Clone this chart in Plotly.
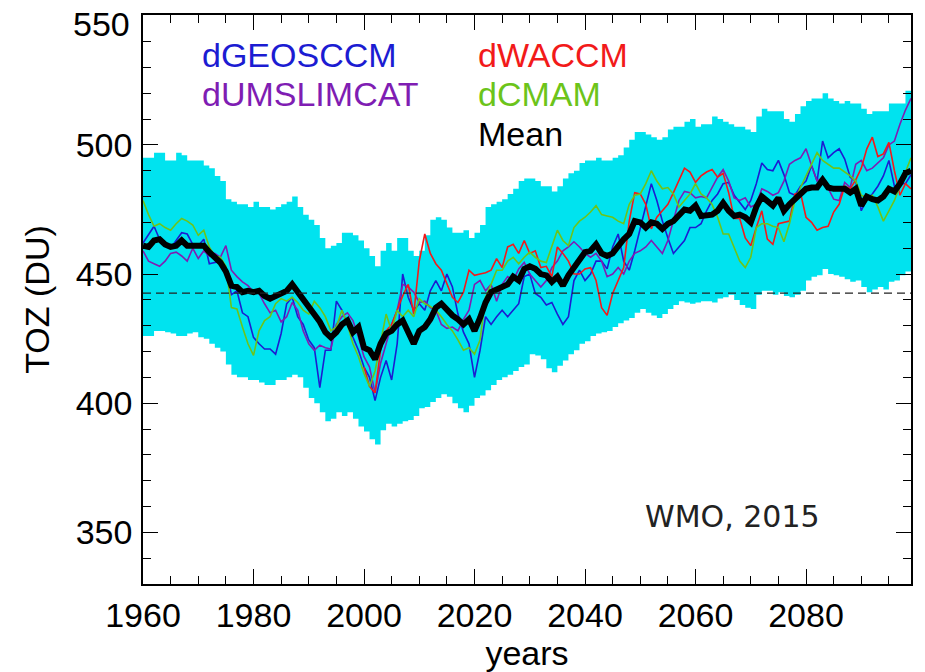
import plotly.graph_objects as go

years = list(range(1960, 2100))
years_waccm = list(range(2000, 2100))

band_hi = [495, 495, 497, 497, 494, 494, 497, 496, 494, 494,
           494, 492, 491, 488, 486, 479, 478, 477, 477, 476,
           478, 476, 476, 475, 476, 477, 478, 480, 476, 473,
           471, 469, 464, 460, 461, 462, 466, 466, 465, 463,
           460, 457, 453, 459, 462, 459, 464, 464, 459, 457,
           459, 465, 471, 472, 471, 468, 466, 466, 467, 464,
           466, 469, 476, 477, 478, 479, 481, 483, 486, 487,
           487, 486, 484, 484, 482, 484, 487, 489, 490, 493,
           494, 494, 495, 494, 494, 495, 496, 499, 502, 505,
           505, 504, 503, 502, 503, 506, 507, 507, 509, 510,
           507, 508, 508, 511, 510, 509, 508, 507, 507, 506,
           505, 511, 514, 513, 513, 513, 510, 509, 512, 515,
           517, 518, 518, 520, 518, 517, 516, 517, 516, 516,
           514, 512, 513, 513, 513, 516, 516, 516, 521, 525]

band_lo = [426, 426, 428, 428, 427.5, 427, 426, 426, 427, 427.5,
           425.5, 425, 423, 421.5, 420, 415, 411, 410, 410, 409,
           409, 408, 407, 407, 409, 409, 410, 411, 410, 406,
           402, 400, 396.5, 393, 394, 396.5, 395, 396.5, 394, 391,
           389, 386, 384, 389.5, 392, 391, 392, 393, 393.5, 395,
           398, 398.5, 400.5, 402, 403.5, 402.5, 400, 398, 396.5, 399,
           402, 403, 405, 407, 409, 410, 411, 412.5, 414, 415,
           419, 418.5, 417, 413.5, 412, 414.5, 416.5, 419, 420.5, 423,
           424, 426, 427, 427.5, 428, 429.5, 431, 432, 433, 435,
           436.5, 435, 434, 433, 434.5, 436.5, 438, 439.5, 439, 438.5,
           439, 439.5, 439.5, 439, 440.5, 441, 442, 440, 438, 437,
           436.5, 442, 443.5, 443.5, 442, 443, 441.5, 441, 442, 443.5,
           447.5, 449, 449.5, 452, 450, 449.5, 449, 448, 447, 447.5,
           445, 443, 444, 445, 444, 447, 447.5, 449.5, 451, 454]

mean = [461, 460.5, 463, 463.5, 461.5, 460.5, 461, 463, 461, 461,
        461, 461, 458.5, 456.5, 454.5, 451, 445.5, 445, 443, 443.5,
        443, 443.5, 441.5, 440.5, 441.5, 442.5, 443.5, 446, 443, 440.5,
        438, 435, 431.5, 427.5, 425.5, 427.5, 430.5, 432, 427.5, 429.5,
        421.5, 420.5, 417, 423, 427, 428, 430.5, 432, 428, 423,
        428, 429.5, 432.5, 437, 438.5, 436, 434, 432.5, 430.5, 432.5,
        428, 433, 439, 443, 444, 445.5, 446, 449, 447.5, 452,
        453, 452, 450, 449.5, 447, 449, 445.5, 449.5, 452.5, 456.5,
        458.5, 459, 461.5, 458, 457, 458, 461, 463.5, 465.5, 470.5,
        470, 468, 470, 469.5, 467.5, 469.5, 470.5, 473, 475, 474.5,
        476.5, 472.5, 472.5, 473, 474.5, 477.5, 474.5, 472.5, 473, 472,
        470, 476, 480, 478, 476.5, 479.5, 474.5, 477, 479, 481.5,
        483, 483.5, 483.5, 486.5, 483.5, 483, 483, 483, 481.5, 483,
        476.5, 480, 479, 478.5, 480, 483, 482, 485, 489, 490]

geosccm = [462, 465.5, 468.5, 463.5, 462, 460, 463, 466, 465.5, 461.5,
           461, 463.5, 454, 454.5, 455, 452.5, 442, 443.5, 435, 433.5,
           425.5, 423, 421, 421, 419, 427, 438.5, 441, 433.5, 430.5,
           424.5, 421.5, 406, 420.5, 420.5, 439.5, 436, 430.5, 425.5, 420.5,
           414, 410, 401, 410, 416.5, 409, 423, 450, 441, 436,
           438.5, 436, 443.5, 447.5, 443.5, 450, 445, 434.5, 427.5, 423,
           410, 420.5, 433.5, 430.5, 433.5, 436, 433.5, 436, 438.5, 449,
           450, 442.5, 441, 438, 439, 434.5, 430.5, 433.5, 447.5, 451.5,
           447.5, 450, 455, 455, 452, 460.5, 465.5, 455, 451.5, 459,
           468, 476, 485, 478.5, 470.5, 464, 458, 460.5, 463, 468,
           468, 469.5, 474.5, 478.5, 481, 485, 485.5, 480.5, 477.5, 475,
           478.5, 485, 493, 490.5, 490, 494, 488.5, 481.5, 480.5, 484,
           486, 492, 486, 501.5, 495, 497, 498.5, 494.5, 487.5, 486,
           474.5, 479, 481, 484, 488, 494, 484, 485, 485, 488.5]

umslimcat = [459, 455, 454, 453, 455, 458, 458.5, 457, 455, 460,
             456, 459, 457, 458, 456.5, 461, 451.5, 449, 447, 445.5,
             443, 442.5, 438.5, 435, 436, 431.5, 433.5, 439, 436, 428,
             423, 420.5, 422.5, 421.5, 421, 430.5, 433.5, 435, 432, 425.5,
             418, 414, 404, 415.5, 423, 430.5, 436, 446, 445, 443,
             439, 439.5, 437, 436, 430.5, 429, 429.5, 428, 432.5, 436,
             446, 447.5, 443.5, 446, 439.5, 446, 449, 447.5, 452, 454.5,
             450, 447.5, 445, 447.5, 452.5, 455, 459, 460.5, 462.5, 460.5,
             458, 456.5, 458, 455, 449, 450, 452.5, 450, 455, 458,
             459, 460.5, 463, 460.5, 458, 463, 470.5, 478.5, 482, 481.5,
             479.5, 480, 479.5, 483.5, 487.5, 490.5, 486, 479.5, 478.5, 479.5,
             476, 477, 483, 482, 480.5, 481.5, 486, 492.5, 494, 495,
             498.5, 492, 486, 487.5, 483, 479, 478.5, 485.5, 483.5, 492.5,
             494, 490, 491, 493, 495, 500, 501.5, 508, 513.5, 518]

waccm = [414, 406.5, 404, 420.5, 428, 430.5, 436, 441.5, 446, 434.5,
         455, 465.5, 458, 454, 451.5, 446, 441, 439, 443, 451.5,
         449.5, 450, 450.5, 451.5, 456, 452.5, 460.5, 461.5, 458, 463,
         458, 459, 452.5, 453, 449, 460.5, 458, 455, 450, 450,
         452, 452.5, 447.5, 437, 434, 442.5, 447.5, 452.5, 470.5, 481.5,
         481, 477, 467.5, 472, 474.5, 477, 481.5, 486, 491, 489.5,
         485.5, 488, 489.5, 490.5, 487.5, 489, 481.5, 471.5, 471.5, 464,
         461, 468, 474.5, 463.5, 461.5, 469.5, 470, 470.5, 481, 481.5,
         472, 470, 467, 468, 468.5, 474, 477, 484, 483, 486.5,
         491, 498.5, 503, 495.5, 496.5, 501, 490, 480.5, 485, 483]

cmam = [478.5, 473, 468.5, 469.5, 468, 467, 469.5, 471.5, 470.5, 469,
        465, 467, 460.5, 457, 456.5, 453, 437, 436.5, 429.5, 423,
        418.5, 428, 432, 433.5, 438.5, 440.5, 439.5, 441, 439, 436,
        434.5, 439.5, 437, 433.5, 428, 429.5, 436, 430.5, 423, 418,
        411.5, 406.5, 412.5, 423, 434.5, 428, 436, 433.5, 436, 433.5,
        440.5, 438.5, 437.5, 436, 433.5, 430.5, 428, 424.5, 420.5, 421.5,
        419, 424.5, 441, 446, 451.5, 451.5, 455, 456.5, 454, 456.5,
        458.5, 456.5, 455, 454.5, 460.5, 467, 463, 461, 468, 470.5,
        472, 474, 476.5, 473, 472.5, 472, 470.5, 469.5, 477, 480.5,
        481, 485, 490, 486, 483, 483.5, 481, 476, 478.5, 481,
        485, 481, 479.5, 477, 472, 465.5, 465.5, 460.5, 455, 452.5,
        456.5, 468, 469.5, 469.5, 468.5, 468, 462.5, 469.5, 478.5, 483.5,
        488, 492, 497, 494, 492.5, 491, 491, 489.5, 488, 486,
        480.5, 479.5, 480.5, 476, 470.5, 474.5, 478.5, 484, 489.5, 495]

ref_1980 = 442.6

y_tickvals = [350, 400, 450, 500, 550]
y_ticktext = ["350", "400", "450", "500", ""]
top_tick_label = "550"

series_names = ["dGEOSCCM", "dUMSLIMCAT", "dWACCM", "dCMAM", "Mean"]
series_colors = ["#1c1cd2", "#7f1db3", "#f21a1a", "#6cc41a", "#000000"]

FONT = "Liberation Sans, Arial, sans-serif"
BAND = "#00e3ef"

fig = go.Figure()
fig.add_trace(go.Scatter(x=years, y=band_lo, mode="lines", line=dict(width=0, shape="hv", color=BAND),
                         showlegend=False, hoverinfo="skip"))
fig.add_trace(go.Scatter(x=years, y=band_hi, mode="lines", line=dict(width=0, shape="hv", color=BAND),
                         fill="tonexty", fillcolor=BAND, showlegend=False, hoverinfo="skip"))

fig.add_shape(type="line", xref="paper", x0=0, x1=1, yref="y", y0=ref_1980, y1=ref_1980,
              line=dict(color="#222222", width=1.2, dash="8px,5px"))

model_data = [(years, geosccm), (years, umslimcat), (years_waccm, waccm), (years, cmam)]
for (xs, ys), name, col in zip(model_data, series_names[:4], series_colors[:4]):
    fig.add_trace(go.Scatter(x=xs, y=ys, mode="lines", name=name, line=dict(color=col, width=1.6),
                             showlegend=False))
fig.add_trace(go.Scatter(x=years, y=mean, mode="lines", name="Mean",
                         line=dict(color="black", width=6), showlegend=False))

# legend texts
leg_pos = [(1970.3, 534.7), (1970.3, 519.7), (2020.2, 534.7), (2020.2, 519.7), (2020.2, 504.2)]
for (lx, ly), name, col in zip(leg_pos, series_names, series_colors):
    fig.add_annotation(x=lx, y=ly, xref="x", yref="y", text=name, showarrow=False,
                       xanchor="left", yanchor="middle", font=dict(family=FONT, size=34, color=col))

fig.add_annotation(x=2050.5, y=356.2, xref="x", yref="y", text="WMO, 2015", showarrow=False,
                   xanchor="left", yanchor="middle",
                   font=dict(family="DejaVu Sans, Verdana, sans-serif", size=30, color="#222222"))

# top y tick label sits a little below its tick (as in the reference)
fig.add_annotation(x=0, xref="paper", y=y_tickvals[-1], yref="y", text=top_tick_label, showarrow=False,
                   xanchor="right", yanchor="middle", xshift=-11, yshift=-8,
                   font=dict(family=FONT, size=34, color="black"))

axis_common = dict(showline=True, linecolor="black", linewidth=1.5, mirror="ticks",
                   ticks="inside", ticklen=15, tickwidth=1.3, tickcolor="black",
                   showgrid=False, zeroline=False, automargin=False,
                   tickfont=dict(family=FONT, size=34, color="black"))

fig.update_xaxes(range=[1960, 2099], tick0=1960, dtick=20,
                 minor=dict(dtick=5, ticklen=8, ticks="inside", tickwidth=1.2, tickcolor="black", showgrid=False),
                 title=dict(text="years", font=dict(family=FONT, size=34, color="black"), standoff=2),
                 ticklabelstandoff=0, **axis_common)
fig.update_yaxes(range=[330, 550.3], tickmode="array", tickvals=y_tickvals, ticktext=y_ticktext,
                 minor=dict(dtick=10, ticklen=8, ticks="inside", tickwidth=1.2, tickcolor="black", showgrid=False),
                 title=dict(text="TOZ (DU)", font=dict(family=FONT, size=34, color="black"), standoff=16),
                 ticklabelstandoff=2, **axis_common)

# page body adds an 8px margin; size the figure so the plot lands where the reference has it
fig.update_layout(width=917, height=664, template="none",
                  margin=dict(l=135, r=14, t=7, b=88),
                  plot_bgcolor="white", paper_bgcolor="white", showlegend=False)

fig.write_html("out.html")
